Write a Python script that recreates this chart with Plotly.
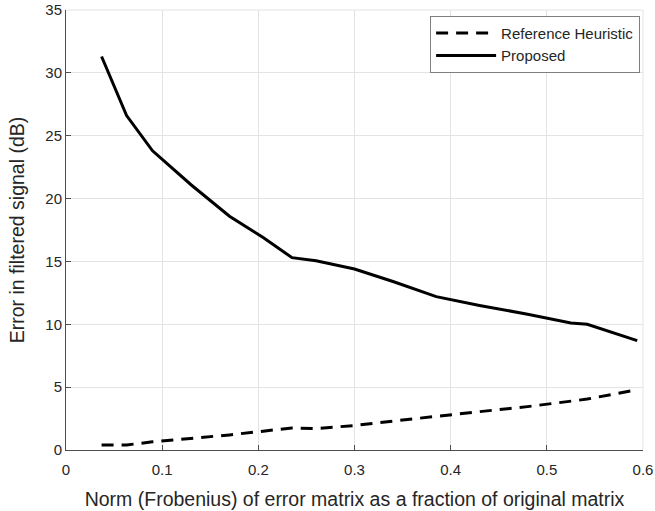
import plotly.graph_objects as go

# Fraction of the original matrix norm (Frobenius) used as perturbation
norm_fraction = [0.037, 0.063, 0.09, 0.13, 0.17, 0.205, 0.235, 0.26, 0.30,
                 0.34, 0.385, 0.43, 0.48, 0.525, 0.542, 0.594]

# Error in filtered signal (dB)
reference_heuristic = [0.4, 0.4, 0.65, 0.9, 1.2, 1.5, 1.75, 1.7, 1.95,
                       2.3, 2.65, 3.05, 3.45, 3.85, 4.05, 4.8]
proposed = [31.3, 26.6, 23.8, 21.1, 18.6, 16.9, 15.3, 15.05, 14.4,
            13.4, 12.2, 11.5, 10.8, 10.1, 10.0, 8.7]

x_ticks = [0, 0.1, 0.2, 0.3, 0.4, 0.5, 0.6]
x_tick_labels = ["0", "0.1", "0.2", "0.3", "0.4", "0.5", "0.6"]
y_ticks = [0, 5, 10, 15, 20, 25, 30, 35]

FONT = "Liberation Sans, Arial, sans-serif"
TEXT = "#262626"

fig = go.Figure()
fig.add_trace(go.Scatter(
    x=norm_fraction, y=reference_heuristic, mode="lines",
    name="Reference Heuristic",
    line=dict(color="black", width=3, dash="12px,8px"),
))
fig.add_trace(go.Scatter(
    x=norm_fraction, y=proposed, mode="lines",
    name="Proposed",
    line=dict(color="black", width=3),
))

axis_common = dict(
    showgrid=True, gridcolor="#e3e3e3", gridwidth=1,
    showline=True, linecolor="#4d4d4d", linewidth=1,
    ticks="inside", ticklen=5, tickcolor="#4d4d4d",
    tickfont=dict(size=15, color=TEXT, family=FONT),
    zeroline=False, mirror=False, automargin=False,
)

fig.update_xaxes(
    range=[0, 0.6], tickvals=x_ticks, ticktext=x_tick_labels,
    ticklabelstandoff=6,
    title=dict(text="Norm (Frobenius) of error matrix as a fraction of original matrix",
               font=dict(size=19.5, color=TEXT, family=FONT)),
    **axis_common,
)
fig.update_yaxes(
    range=[0, 35], tickvals=y_ticks,
    title=dict(text="Error in filtered signal (dB)",
               font=dict(size=19.5, color=TEXT, family=FONT)),
    **axis_common,
)

fig.update_layout(
    width=655, height=511,
    margin=dict(l=66, r=12, t=10, b=61),
    plot_bgcolor="white", paper_bgcolor="white",
    font=dict(family=FONT, color=TEXT),
    legend=dict(
        x=0.995, y=0.987, xanchor="right", yanchor="top",
        bgcolor="white", bordercolor="#7f7f7f", borderwidth=1,
        font=dict(size=15, color=TEXT, family=FONT),
        itemwidth=60, tracegroupgap=0,
    ),
    showlegend=True,
)

# light frame along the top and right edges of the plot area
fig.add_shape(type="line", xref="paper", yref="paper", x0=0, x1=1, y0=1, y1=1,
              line=dict(color="#e3e3e3", width=1))
fig.add_shape(type="line", xref="paper", yref="paper", x0=1, x1=1, y0=0, y1=1,
              line=dict(color="#e3e3e3", width=1))

fig.write_html("out.html")
